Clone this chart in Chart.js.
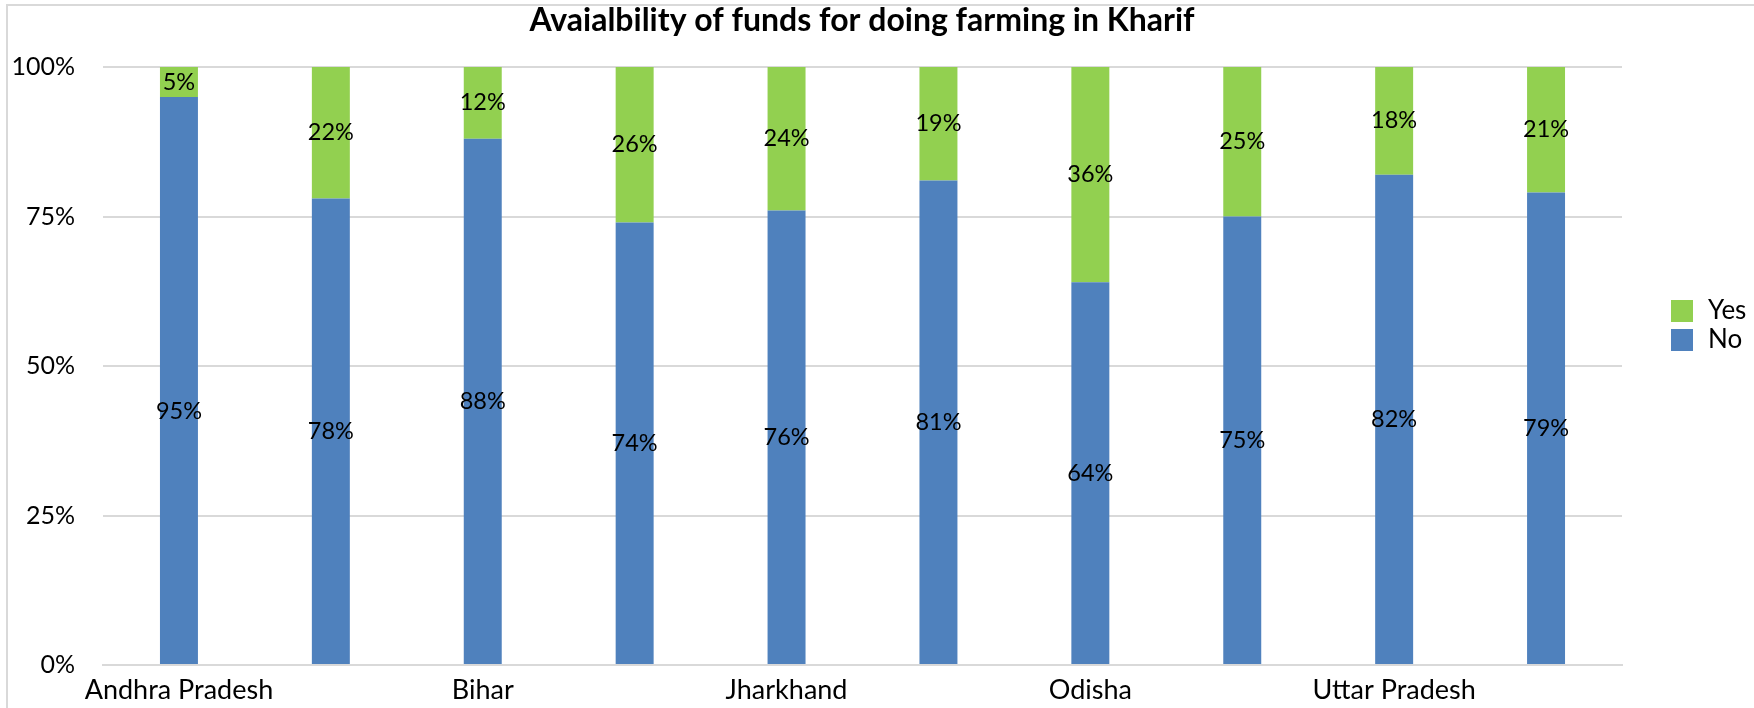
<!DOCTYPE html>
<html>
<head>
<meta charset="utf-8">
<script src="https://cdn.jsdelivr.net/npm/chart.js@4.4.1/dist/chart.umd.min.js"></script>
<style>
  html, body { margin: 0; padding: 0; background: #ffffff; }
  #wrap { width: 1754px; height: 708px; position: relative; }
</style>
</head>
<body>
<div id="wrap"><canvas id="c" width="1754" height="708"></canvas></div>
<script>
// ---- data ----
const categories = ['Andhra Pradesh', '', 'Bihar', '', 'Jharkhand', '', 'Odisha', '', 'Uttar Pradesh', ''];
const noValues  = [95, 78, 88, 74, 76, 81, 64, 75, 82, 79];
const yesValues = [5, 22, 12, 26, 24, 19, 36, 25, 18, 21];
const yTickValues = [0, 25, 50, 75, 100];
const seriesNames = ['No', 'Yes'];
const titleText = 'Avaialbility of funds for doing farming in Kharif';

const FONT = 'Lato, "Open Sans", "DejaVu Sans", sans-serif';
const BLUE = '#4f81bd';
const GREEN = '#92d050';

const decorPlugin = {
  id: 'decor',
  beforeDraw(chart) {
    const ctx = chart.ctx;
    ctx.save();
    ctx.fillStyle = '#ffffff';
    ctx.fillRect(0, 0, chart.width, chart.height);
    ctx.strokeStyle = '#d9d9d9';
    ctx.lineWidth = 2;
    ctx.strokeRect(7, 5, chart.width + 20, chart.height + 20);
    ctx.restore();
  },
  afterDatasetsDraw(chart) {
    const ctx = chart.ctx;
    ctx.save();
    ctx.font = '23.5px ' + FONT;
    ctx.fillStyle = '#000000';
    ctx.textAlign = 'center';
    ctx.textBaseline = 'middle';
    chart.data.datasets.forEach((ds, di) => {
      const meta = chart.getDatasetMeta(di);
      meta.data.forEach((el, i) => {
        const v = ds.data[i];
        const top = Math.min(el.y, el.base), bot = Math.max(el.y, el.base);
        let y = (top + bot) / 2;
        if (di === 0 && i === 0) y += 31;
        ctx.fillText(v + '%', el.x, y);
      });
    });
    // title
    ctx.font = 'bold 32px ' + FONT;
    ctx.fillText(titleText, 862, 21);
    // legend
    const lx = 1671, items = [[GREEN, seriesNames[1], 300], [BLUE, seriesNames[0], 329]];
    ctx.textAlign = 'left';
    ctx.font = '26px ' + FONT;
    items.forEach(([col, name, y]) => {
      ctx.fillStyle = col;
      ctx.fillRect(lx, y, 22, 22);
      ctx.fillStyle = '#000000';
      ctx.fillText(name, 1708, y + 11);
    });
    ctx.restore();
  }
};

new Chart(document.getElementById('c'), {
  type: 'bar',
  data: {
    labels: categories,
    datasets: [
      { label: seriesNames[0], data: noValues, backgroundColor: BLUE, barPercentage: 0.5, categoryPercentage: 0.5 },
      { label: seriesNames[1], data: yesValues, backgroundColor: GREEN, barPercentage: 0.5, categoryPercentage: 0.5 }
    ]
  },
  options: {
    responsive: false,
    animation: false,
    devicePixelRatio: 1,
    layout: { padding: { left: 0, right: 132, top: 67, bottom: 0 } },
    plugins: { legend: { display: false }, title: { display: false }, tooltip: { enabled: false } },
    scales: {
      x: {
        stacked: true,
        grid: { display: false, drawTicks: false },
        border: { display: true, color: '#d9d9d9', width: 2 },
        ticks: { autoSkip: false, maxRotation: 0, padding: 9, color: '#000000', font: { family: FONT, size: 27 } },
        afterFit(scale) { scale.height = 39; }
      },
      y: {
        stacked: true,
        min: 0, max: 100,
        afterBuildTicks(scale) { scale.ticks = yTickValues.map(v => ({ value: v })); },
        grid: { color: '#d9d9d9', lineWidth: 2, drawTicks: false },
        border: { display: false },
        ticks: { padding: 28, color: '#000000', font: { family: FONT, size: 25 }, callback: v => v + '%' },
        afterFit(scale) { scale.width = 103; }
      }
    }
  },
  plugins: [decorPlugin]
});
</script>
</body>
</html>
